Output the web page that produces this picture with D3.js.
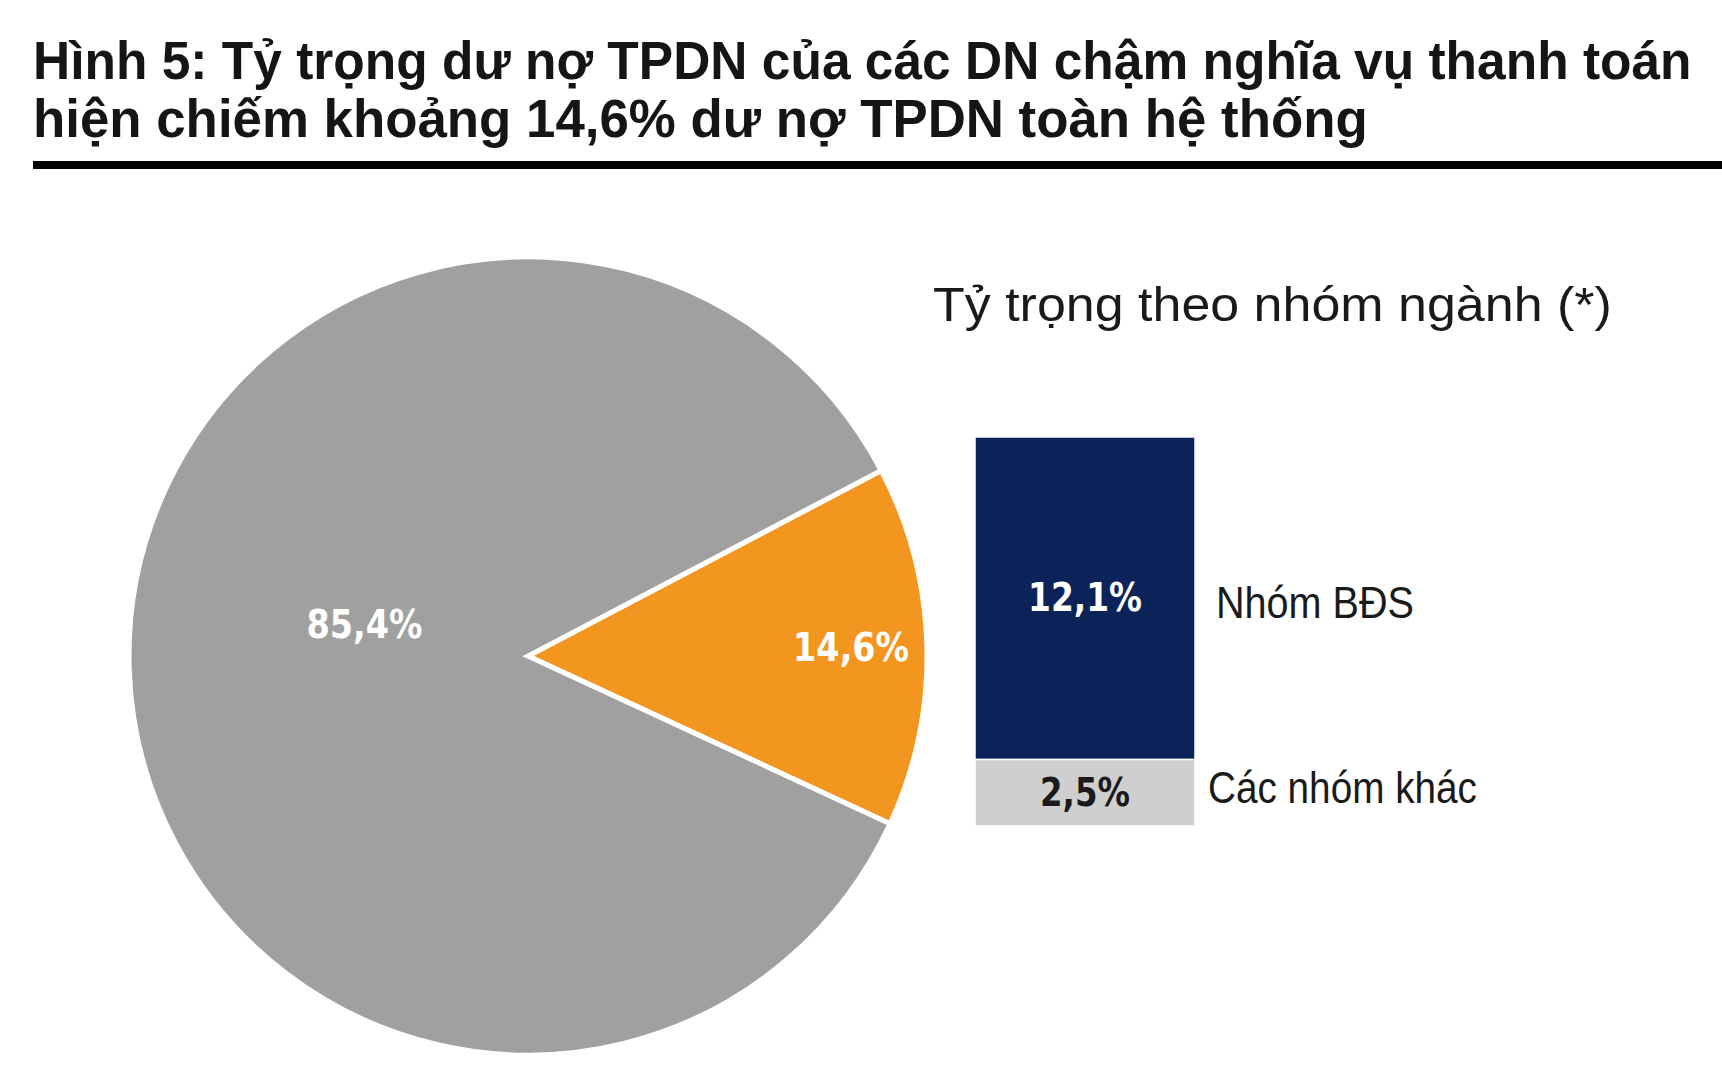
<!DOCTYPE html>
<html>
<head>
<meta charset="utf-8">
<script src="https://cdn.jsdelivr.net/npm/d3@7"></script>
<style>
  html, body { margin: 0; padding: 0; background: #ffffff; }
  svg { display: block; }
</style>
</head>
<body>
<svg id="chart" width="1722" height="1080"></svg>
<script>
// ---- Data ----
const titleLines = [
  "Hình 5: Tỷ trọng dư nợ TPDN của các DN chậm nghĩa vụ thanh toán",
  "hiện chiếm khoảng 14,6% dư nợ TPDN toàn hệ thống"
];
const pieCategories = ["DN chậm nghĩa vụ thanh toán", "Còn lại"];
const pieValues = [14.6, 85.4];
const pieLabels = ["14,6%", "85,4%"];
const barTitle = "Tỷ trọng theo nhóm ngành (*)";
const barCategories = ["Các nhóm khác", "Nhóm BĐS"];
const barValues = [2.5, 12.1];
const barLabels = ["2,5%", "12,1%"];

// ---- Setup ----
const svg = d3.select("#chart");
const W = 1722, H = 1080;
svg.append("rect").attr("width", W).attr("height", H).attr("fill", "#ffffff");

// Helper: place a text at (x,y) and squeeze it horizontally to a target width
function fitText(sel, x, y, targetW, anchor) {
  sel.each(function () {
    const node = this;
    const w = node.getComputedTextLength();
    const k = w > 0 ? targetW / w : 1;
    d3.select(node)
      .attr("x", 0).attr("y", 0)
      .attr("text-anchor", anchor || "start")
      .attr("transform", `translate(${x},${y}) scale(${k},1)`);
  });
}

// Title
const titleWidths = [1659, 1335];
const titleBaselines = [79, 137];
titleLines.forEach((t, i) => {
  const tx = svg.append("text")
    .attr("font-family", "'Liberation Sans', Arial, sans-serif")
    .attr("font-weight", "bold")
    .attr("font-size", 54)
    .attr("fill", "#151515")
    .text(t);
  fitText(tx, 33, titleBaselines[i], titleWidths[i], "start");
});
svg.append("rect").attr("x", 33).attr("y", 161).attr("width", W - 33).attr("height", 8).attr("fill", "#000");

// ---- Pie ----
const cx = 528, cy = 656, R = 399;
const pieColors = ["#f3961f", "#a0a0a0"];
const startDeg = 62.3;
const pie = d3.pie().sort(null).value(d => d)
  .startAngle(startDeg * Math.PI / 180)
  .endAngle(startDeg * Math.PI / 180 + 2 * Math.PI);
const arcs = pie(pieValues);
const arc = d3.arc().innerRadius(0).outerRadius(R);
const gPie = svg.append("g").attr("transform", `translate(${cx},${cy})`);
gPie.selectAll("path.slice").data(arcs).join("path")
  .attr("class", "slice")
  .attr("d", arc)
  .attr("fill", (d, i) => pieColors[i])
  .attr("stroke", "#ffffff")
  .attr("stroke-width", 5)
  .attr("stroke-linejoin", "miter");

const labelRadiusFrac = [0.81, 0.41];
const labelNudgeY = [0, -35];
gPie.selectAll("text.plabel").data(arcs).join("text")
  .attr("class", "plabel")
  .attr("dominant-baseline", "central")
  .attr("font-family", "'DejaVu Sans', Verdana, sans-serif")
  .attr("font-weight", "bold")
  .attr("font-size", 39)
  .attr("fill", "#ffffff")
  .text((d, i) => pieLabels[i])
  .each(function (d, i) {
    const r = R * labelRadiusFrac[i];
    const c = d3.arc().innerRadius(r).outerRadius(r).centroid(d);
    fitText(d3.select(this), c[0], c[1] + labelNudgeY[i], 116, "middle");
  });

// ---- Stacked bar ----
const sub = svg.append("text")
  .attr("font-family", "'Liberation Sans', Arial, sans-serif")
  .attr("font-size", 48)
  .attr("fill", "#1a1a1a")
  .text(barTitle);
fitText(sub, 933, 321, 679, "start");

const total = d3.sum(barValues);
const y = d3.scaleLinear().domain([0, total]).range([826, 437]);
const x = d3.scaleBand().domain(["total"]).range([975, 1195]).padding(0);
const barColors = ["#cfcfcf", "#0b2359"];
const labelColors = ["#1a1a1a", "#ffffff"];
let cum = 0;
const segs = barValues.map((v, i) => {
  const s = { y0: cum, y1: cum + v, i };
  cum += v;
  return s;
});
const gBar = svg.append("g");
gBar.selectAll("rect.seg").data(segs).join("rect")
  .attr("class", "seg")
  .attr("x", x("total"))
  .attr("width", x.bandwidth())
  .attr("y", d => y(d.y1))
  .attr("height", d => y(d.y0) - y(d.y1))
  .attr("fill", d => barColors[d.i])
  .attr("stroke", "#ffffff")
  .attr("stroke-width", 1.5);

const barLabelWidths = [90, 114];
gBar.selectAll("text.blabel").data(segs).join("text")
  .attr("class", "blabel")
  .attr("dominant-baseline", "central")
  .attr("font-family", "'DejaVu Sans', Verdana, sans-serif")
  .attr("font-weight", "bold")
  .attr("font-size", 39)
  .attr("fill", d => labelColors[d.i])
  .text(d => barLabels[d.i])
  .each(function (d) {
    fitText(d3.select(this), x("total") + x.bandwidth() / 2, (y(d.y0) + y(d.y1)) / 2, barLabelWidths[d.i], "middle");
  });

const catOffsetX = [13, 21];
const catOffsetY = [-5, 4];
const catWidths = [269, 198];
gBar.selectAll("text.cat").data(segs).join("text")
  .attr("class", "cat")
  .attr("dominant-baseline", "central")
  .attr("font-family", "'Liberation Sans', Arial, sans-serif")
  .attr("font-size", 45)
  .attr("fill", "#1a1a1a")
  .text(d => barCategories[d.i])
  .each(function (d) {
    fitText(d3.select(this), x("total") + x.bandwidth() + catOffsetX[d.i], (y(d.y0) + y(d.y1)) / 2 + catOffsetY[d.i], catWidths[d.i], "start");
  });
</script>
</body>
</html>
